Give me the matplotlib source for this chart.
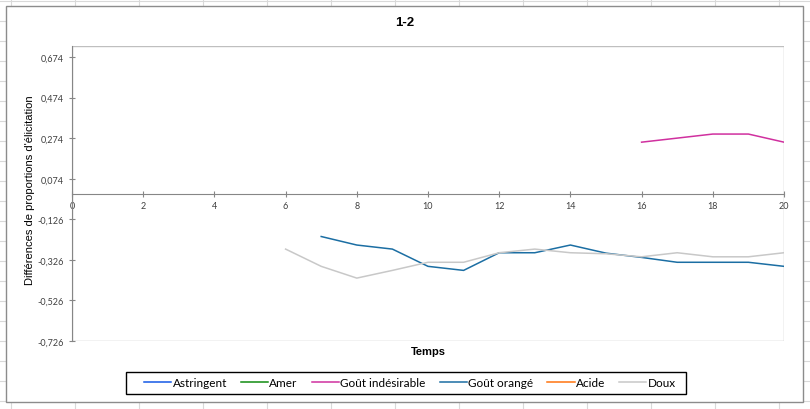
import numpy as np
import matplotlib
matplotlib.use("Agg")
import matplotlib.pyplot as plt
from matplotlib.lines import Line2D
from matplotlib.patches import Rectangle
from matplotlib.ticker import FuncFormatter

# --- data ---
temps = list(range(0, 21))
nan = np.nan

astringent = [nan] * 21
amer = [nan] * 21
acide = [nan] * 21
gout_indesirable = [nan] * 16 + [0.254, 0.274, 0.294, 0.294, 0.254]
gout_orange = [nan] * 7 + [-0.211, -0.253, -0.273, -0.358, -0.378, -0.291, -0.291,
                           -0.253, -0.293, -0.314, -0.338, -0.338, -0.338, -0.358]
doux = [nan] * 6 + [-0.273, -0.358, -0.416, -0.378, -0.338, -0.338, -0.291, -0.273,
                    -0.291, -0.296, -0.311, -0.291, -0.311, -0.311, -0.291]

series_names = ["Astringent", "Amer", "Goût indésirable", "Goût orangé", "Acide", "Doux"]
series_values = [astringent, amer, gout_indesirable, gout_orange, acide, doux]
series_colors = ["#1558E6", "#118C11", "#D0309F", "#1B6EA3", "#FF7410", "#C8C8C8"]

y_ticks = [-0.726, -0.526, -0.326, -0.126, 0.074, 0.274, 0.474, 0.674]
x_ticks = list(range(0, 21, 2))

title = "1-2"
x_label = "Temps"
y_label = "Différences de proportions d'élicitation"

W, H = 810, 410
fig = plt.figure(figsize=(W / 100, H / 100), dpi=100)

# spreadsheet cell grid behind the chart object
def px_line(x0, y0, x1, y1, **kw):
    fig.add_artist(Line2D([x0 / W, x1 / W], [1 - y0 / H, 1 - y1 / H],
                          transform=fig.transFigure, **kw))

for gx in range(11, W, 64):
    px_line(gx, 0, gx, H, color="#D9D9D9", lw=0.8, zorder=0)
for gy in range(2, H, 20):
    px_line(0, gy, W, gy, color="#D9D9D9", lw=0.8, zorder=0)

# chart area
fig.add_artist(Rectangle((6 / W, 1 - 403 / H), (803 - 6) / W, (403 - 7) / H,
                         transform=fig.transFigure, facecolor="white",
                         edgecolor="#8C8C8C", lw=1.0, zorder=1))

ax = fig.add_axes([72 / W, 1 - 342 / H, (784 - 72) / W, (342 - 47) / H])
ax.set_zorder(2)
ax.patch.set_alpha(0)

for name, vals, col in zip(series_names, series_values, series_colors):
    ax.plot(temps, vals, color=col, lw=1.1, label=name)

ax.set_xlim(0, 20)
ax.set_ylim(-0.726, 0.728)
ax.set_xticks(x_ticks)
ax.set_yticks(y_ticks)
ax.yaxis.set_major_formatter(FuncFormatter(lambda v, p: f"{v:.3f}".replace(".", ",")))

# plot area frame + axis through zero
ax.add_patch(Rectangle((0, 0), 1, 1, transform=ax.transAxes, fill=False,
                       edgecolor="#BFBFBF", lw=1.0, zorder=0.5))
for s in ["top", "right"]:
    ax.spines[s].set_visible(False)
ax.spines["bottom"].set_position(("data", 0))
ax.spines["bottom"].set_color("#868686")
ax.spines["left"].set_color("#868686")

ax.tick_params(axis="both", direction="inout", length=5, width=0.8,
               color="#868686", labelsize=6.5, labelcolor="#404040")
ax.tick_params(axis="x", pad=3)
for lbl in ax.get_xticklabels() + ax.get_yticklabels():
    lbl.set_fontfamily("Lato")

fig.text(405 / W, 1 - 23 / H, title, ha="center", va="center",
         fontsize=9.5, fontweight="bold", family="Liberation Sans", zorder=3)
fig.text(428 / W, 1 - 352 / H, x_label, ha="center", va="center",
         fontsize=8, fontweight="bold", family="Liberation Sans", zorder=3)
fig.text(30 / W, 1 - 190 / H, y_label, ha="center", va="center", rotation=90,
         fontsize=8, family="Liberation Sans", zorder=3)

# legend box drawn separately so its padding matches the Excel one
fig.add_artist(Rectangle((126 / W, 1 - 395 / H), (686 - 126) / W, (395 - 373) / H,
                         transform=fig.transFigure, facecolor="white",
                         edgecolor="black", lw=1.0, zorder=3))
leg = fig.legend(loc="center", bbox_to_anchor=(410 / W, 1 - 384 / H), ncol=6,
                 frameon=False, prop={"family": "Lato", "size": 8.5},
                 handlelength=2.3, handletextpad=0.1, columnspacing=1.2,
                 borderpad=0, borderaxespad=0)
leg.set_zorder(4)

fig.savefig("out.png", dpi=100)
